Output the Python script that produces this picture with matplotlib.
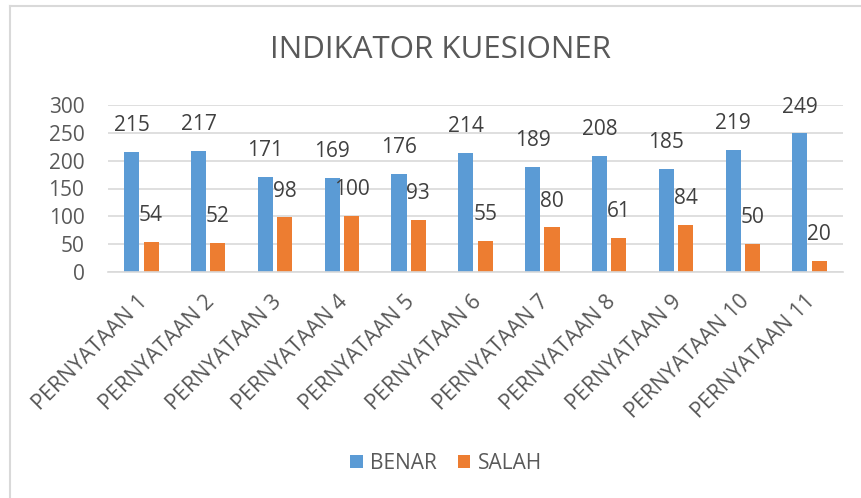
import numpy as np
import matplotlib.pyplot as plt
from matplotlib.lines import Line2D
import matplotlib.transforms as mtrans

kategori = ['PERNYATAAN 1', 'PERNYATAAN 2', 'PERNYATAAN 3', 'PERNYATAAN 4',
            'PERNYATAAN 5', 'PERNYATAAN 6', 'PERNYATAAN 7', 'PERNYATAAN 8',
            'PERNYATAAN 9', 'PERNYATAAN 10', 'PERNYATAAN 11']
benar = [215, 217, 171, 169, 176, 214, 189, 208, 185, 219, 249]
salah = [54, 52, 98, 100, 93, 55, 80, 61, 84, 50, 20]

plt.rcParams['font.family'] = ['Open Sans', 'DejaVu Sans']
abu = '#595959'
biru = '#5b9bd5'
oranye = '#ed7d31'

W, H = 861, 498
fig = plt.figure(figsize=(W / 100, H / 100), dpi=100)
ax = fig.add_axes([108 / W, 1 - 272 / H, 735 / W, (272 - 105) / H])

x = np.arange(len(kategori))
lebar = 0.225
b1 = ax.bar(x - 0.145, benar, lebar, color=biru, label='BENAR')
b2 = ax.bar(x + 0.145, salah, lebar, color=oranye, label='SALAH')

for bars in (b1, b2):
    for r in bars:
        ax.annotate(str(int(r.get_height())),
                    (r.get_x() + r.get_width() / 2, r.get_height()),
                    xytext=(0, 19), textcoords='offset points',
                    ha='center', va='center', fontsize=15, color='#404040')

ax.set_xlim(-0.5, len(kategori) - 0.5)
ax.set_ylim(0, 300)
ax.set_yticks(range(0, 301, 50))
ax.yaxis.grid(True, color='#d9d9d9', linewidth=1.2)
ax.set_axisbelow(True)
for s in ['top', 'right', 'left']:
    ax.spines[s].set_visible(False)
ax.spines['bottom'].set_color('#d9d9d9')
ax.spines['bottom'].set_linewidth(1.2)
ax.tick_params(axis='both', length=0, labelsize=15, colors=abu)
ax.tick_params(axis='y', pad=17)
ax.set_xticks(x)
ax.set_xticklabels(kategori, rotation=45, ha='right', va='center',
                   rotation_mode='anchor', fontsize=15.5)
ax.tick_params(axis='x', pad=19)
geser = mtrans.ScaledTranslation(3 / 100, 0, fig.dpi_scale_trans)
for t in ax.get_xticklabels():
    t.set_transform(t.get_transform() + geser)

fig.text(441 / W, 1 - 50 / H, 'INDIKATOR KUESIONER', ha='center', va='center',
         fontsize=22.5, color=abu)

fig.legend(handles=[b1, b2], loc='center', bbox_to_anchor=(446 / W, 1 - 463 / H),
           ncol=2, frameon=False, fontsize=15, labelcolor=abu,
           handlelength=0.6, handleheight=0.6, handletextpad=0.35, columnspacing=1.0)

fig.add_artist(Line2D([10 / W, 10 / W], [0, 1 - 6 / H], color='#d9d9d9', lw=1.5))
fig.add_artist(Line2D([10 / W, 1], [1 - 6 / H, 1 - 6 / H], color='#d9d9d9', lw=1.5))

fig.savefig('out.png', dpi=100)
